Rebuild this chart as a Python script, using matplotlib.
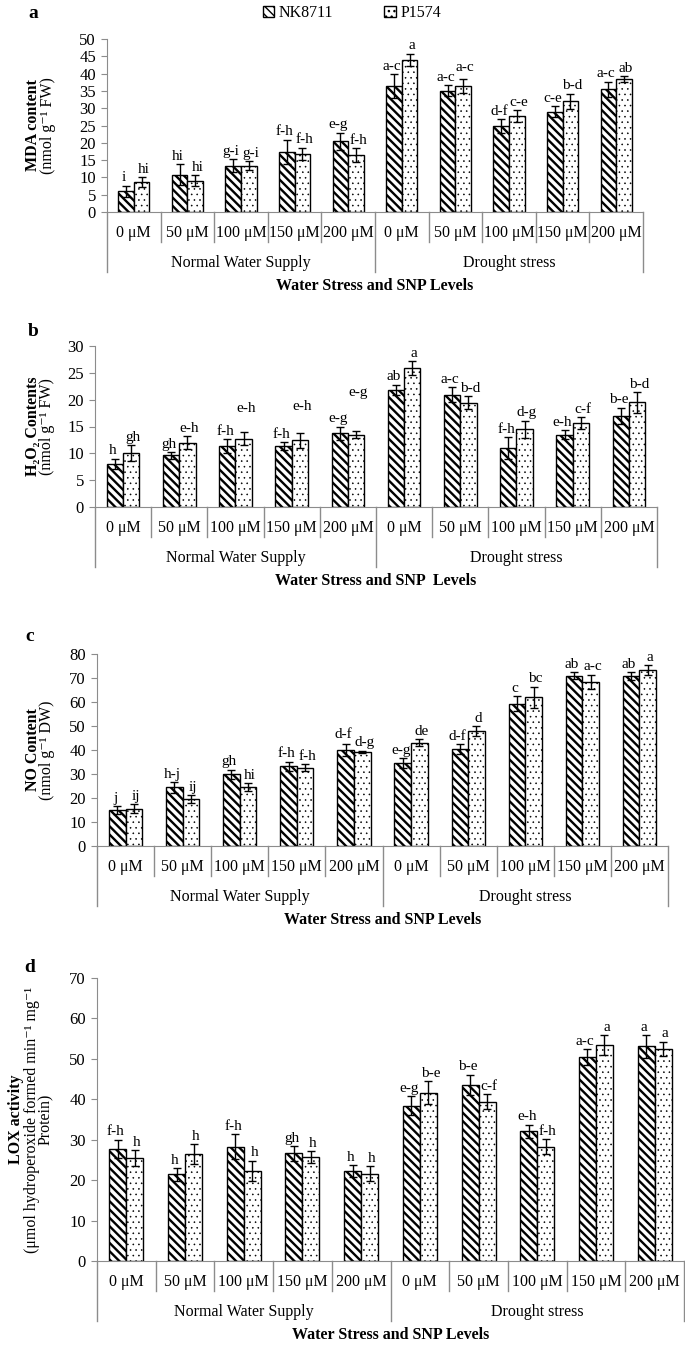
import numpy as np
import matplotlib.pyplot as plt
from matplotlib.patches import Patch
from matplotlib.lines import Line2D

# --- data ---
doses = ["0 μM", "50 μM", "100 μM", "150 μM", "200 μM"] * 2
groups = ["Normal Water Supply", "Drought stress"]
series = ["NK8711", "P1574"]

mda_nk = [6.0, 10.8, 13.4, 17.4, 20.4, 36.4, 35.1, 24.8, 29.0, 35.5]
mda_nk_err = [1.6, 3.1, 1.9, 3.5, 2.5, 3.5, 1.5, 2.0, 1.5, 2.2]
mda_p = [8.7, 9.1, 13.4, 16.8, 16.4, 44.0, 36.4, 27.7, 32.0, 38.4]
mda_p_err = [1.4, 1.5, 1.2, 1.8, 2.0, 1.8, 2.0, 1.8, 2.2, 0.8]
mda_nk_let = ["i", "hi", "g-i", "f-h", "e-g", "a-c", "a-c", "d-f", "c-e", "a-c"]
mda_p_let = ["hi", "hi", "g-i", "f-h", "f-h", "a", "a-c", "c-e", "b-d", "ab"]

h2o2_nk = [8.0, 9.6, 11.3, 11.4, 13.7, 21.8, 20.9, 11.0, 13.5, 17.0]
h2o2_nk_err = [1.0, 0.6, 1.3, 0.7, 1.3, 1.0, 1.4, 2.0, 0.8, 1.5]
h2o2_p = [10.0, 12.0, 12.7, 12.4, 13.5, 25.9, 19.4, 14.5, 15.6, 19.5]
h2o2_p_err = [1.5, 1.2, 1.2, 1.4, 0.6, 1.3, 1.2, 1.6, 1.1, 1.9]
h2o2_nk_let = ["h", "gh", "f-h", "f-h", "e-g", "ab", "a-c", "f-h", "e-h", "b-e"]
h2o2_p_let = ["gh", "e-h", "e-h", "e-h", "e-g", "a", "b-d", "d-g", "c-f", "b-d"]

no_nk = [15.0, 24.4, 29.8, 33.2, 39.8, 34.6, 40.3, 59.3, 71.0, 70.8]
no_nk_err = [1.5, 2.3, 2.0, 2.0, 2.5, 2.0, 2.0, 3.0, 1.5, 1.5]
no_p = [15.6, 19.5, 24.6, 32.6, 39.2, 43.0, 48.0, 61.9, 68.3, 73.3]
no_p_err = [1.8, 1.6, 1.5, 1.5, 0.5, 1.5, 2.0, 4.5, 3.0, 2.0]
no_nk_let = ["j", "h-j", "gh", "f-h", "d-f", "e-g", "d-f", "c", "ab", "ab"]
no_p_let = ["ij", "ij", "hi", "f-h", "d-g", "de", "d", "bc", "a-c", "a"]

lox_nk = [27.7, 21.4, 28.3, 26.6, 22.3, 38.4, 43.6, 32.1, 50.4, 53.1]
lox_nk_err = [2.3, 1.6, 3.0, 1.8, 1.4, 2.3, 2.5, 1.6, 2.0, 2.8]
lox_p = [25.4, 26.4, 22.3, 25.7, 21.6, 41.6, 39.4, 28.3, 53.4, 52.4]
lox_p_err = [2.0, 2.5, 2.5, 1.4, 1.8, 2.8, 1.8, 1.8, 2.5, 1.8]
lox_nk_let = ["f-h", "h", "f-h", "gh", "h", "e-g", "b-e", "e-h", "a-c", "a"]
lox_p_let = ["h", "h", "h", "h", "h", "b-e", "c-f", "f-h", "a", "a"]

# --- layout (pixels in a 685 x 1356 canvas) ---
W, H = 685, 1356
GRAY = "#8c8c8c"
FONT = ["Liberation Serif", "DejaVu Serif"]
NK_HATCH = "\\\\\\\\"
P_HATCH = "..."

plt.rcParams.update({
    "font.family": FONT,
    "font.size": 11.5,
    "hatch.color": "black",
})

panels = [
    dict(tag="a", box=(107, 643, 39, 212), ymax=50, step=5,
         nk=mda_nk, nk_err=mda_nk_err, p=mda_p, p_err=mda_p_err,
         nk_let=mda_nk_let, p_let=mda_p_let,
         ylab=[("MDA content", "bold"), ("(nmol g⁻¹ FW)", "normal")], ylab_x=[33, 48],
         xlab="Water Stress and SNP Levels", tag_xy=(33, 13)),
    dict(tag="b", box=(95, 657, 346, 507), ymax=30, step=5,
         nk=h2o2_nk, nk_err=h2o2_nk_err, p=h2o2_p, p_err=h2o2_p_err,
         nk_let=h2o2_nk_let, p_let=h2o2_p_let,
         ylab=[("H₂O₂ Contents", "bold"), ("(nmol g⁻¹ FW)", "normal")], ylab_x=[33, 47],
         xlab="Water Stress and SNP  Levels", tag_xy=(33, 332)),
    dict(tag="c", box=(97, 668, 654, 846), ymax=80, step=10,
         nk=no_nk, nk_err=no_nk_err, p=no_p, p_err=no_p_err,
         nk_let=no_nk_let, p_let=no_p_let,
         ylab=[("NO Content", "bold"), ("(nmol g⁻¹ DW)", "normal")], ylab_x=[33, 47],
         xlab="Water Stress and SNP Levels", tag_xy=(30, 637)),
    dict(tag="d", box=(97, 684, 978, 1261), ymax=70, step=10,
         nk=lox_nk, nk_err=lox_nk_err, p=lox_p, p_err=lox_p_err,
         nk_let=lox_nk_let, p_let=lox_p_let,
         ylab=[("LOX activity", "bold"),
               ("(μmol hydroperoxide formed min⁻¹ mg⁻¹", "normal"),
               ("Protein)", "normal")], ylab_x=[16, 32, 46],
         xlab="Water Stress and SNP Levels", tag_xy=(30, 967)),
]

# a few letters sit higher than the error bar in the original
LIFT = {("b", "p", 2): 3.0, ("b", "p", 3): 3.5, ("b", "p", 4): 5.8,
        ("c", "nk", 4): 1.0, ("a", "p", 6): 1.0}


def fx(px):
    return px / W


def fy(px):
    return 1 - px / H


def hatched_bars(ax, xs, vals, width, hatch, hlw):
    # hatch line width is taken from rcParams when the patch is created
    with plt.rc_context({"hatch.linewidth": hlw}):
        bars = ax.bar(xs, vals, width, color="white", edgecolor="black",
                      hatch=hatch, linewidth=1.0, zorder=2)
    for b in bars:
        if hasattr(b, "set_hatch_linewidth"):
            b.set_hatch_linewidth(hlw)
    return bars


fig = plt.figure(figsize=(W / 100, H / 100), dpi=100)
bw = 0.29
x = np.arange(10) + 0.5

for pn in panels:
    L, R, T, B = pn["box"]
    ax = fig.add_axes([fx(L), fy(B), (R - L) / W, (B - T) / H])

    hatched_bars(ax, x - bw / 2, pn["nk"], bw, NK_HATCH, 1.7)
    hatched_bars(ax, x + bw / 2, pn["p"], bw, P_HATCH, 0.4)
    ax.errorbar(x - bw / 2, pn["nk"], yerr=pn["nk_err"], fmt="none",
                ecolor="black", elinewidth=1, capsize=3, capthick=1, zorder=3)
    ax.errorbar(x + bw / 2, pn["p"], yerr=pn["p_err"], fmt="none",
                ecolor="black", elinewidth=1, capsize=3, capthick=1, zorder=3)

    # significance letters (NK nudged left, P nudged right, as in the original)
    for key, dx, xs, vals, errs, lets in [
            ("nk", -1.5, x - bw / 2, pn["nk"], pn["nk_err"], pn["nk_let"]),
            ("p", 1.5, x + bw / 2, pn["p"], pn["p_err"], pn["p_let"])]:
        for i in range(10):
            y = vals[i] + errs[i] + LIFT.get((pn["tag"], key, i), 0)
            ax.annotate(lets[i], (xs[i], y), xytext=(dx, 1), textcoords="offset points",
                        ha="center", va="bottom", fontsize=11)

    ax.set_xlim(0, 10)
    ax.set_ylim(0, pn["ymax"])
    ax.set_yticks(np.arange(0, pn["ymax"] + 1, pn["step"]))
    ax.set_xticks([])
    for s in ["top", "right"]:
        ax.spines[s].set_visible(False)
    for s in ["left", "bottom"]:
        ax.spines[s].set_color(GRAY)
    ax.tick_params(axis="y", length=4, color=GRAY, labelsize=12, pad=4)

    # category separators and labels under the axis
    cw = (R - L) / 10
    for k in range(11):
        bottom = B + (60 if k in (0, 5, 10) else 30)
        fig.add_artist(Line2D([fx(L + k * cw)] * 2, [fy(B), fy(bottom)],
                              color=GRAY, lw=1))
    for i, lab in enumerate(doses):
        fig.text(fx(L + (i + 0.5) * cw), fy(B + 21), lab, ha="center", va="center")
    for g, lab in enumerate(groups):
        fig.text(fx(L + (g * 5 + 2.5) * cw), fy(B + 51), lab, ha="center", va="center")
    fig.text(fx(L + 5 * cw), fy(B + 74), pn["xlab"], ha="center", va="center",
             fontweight="bold")

    # y label lines
    yc = fy((T + B) / 2)
    for (txt, wt), xp in zip(pn["ylab"], pn["ylab_x"]):
        fig.text(fx(xp), yc, txt, rotation=90, ha="center", va="center", fontweight=wt)

    fig.text(fx(pn["tag_xy"][0]), fy(pn["tag_xy"][1]), pn["tag"], ha="center",
             va="center", fontweight="bold", fontsize=14)

with plt.rc_context({"hatch.linewidth": 1.7}):
    h_nk = Patch(facecolor="white", edgecolor="black", hatch=NK_HATCH)
with plt.rc_context({"hatch.linewidth": 0.4}):
    h_p = Patch(facecolor="white", edgecolor="black", hatch=P_HATCH)
fig.legend([h_nk, h_p], series, loc="center", bbox_to_anchor=(fx(352), fy(13)), ncol=2,
           frameon=False, handlelength=0.7, handleheight=0.7, handletextpad=0.3,
           columnspacing=3.2, fontsize=11.5)

fig.savefig("out.png", dpi=100)
